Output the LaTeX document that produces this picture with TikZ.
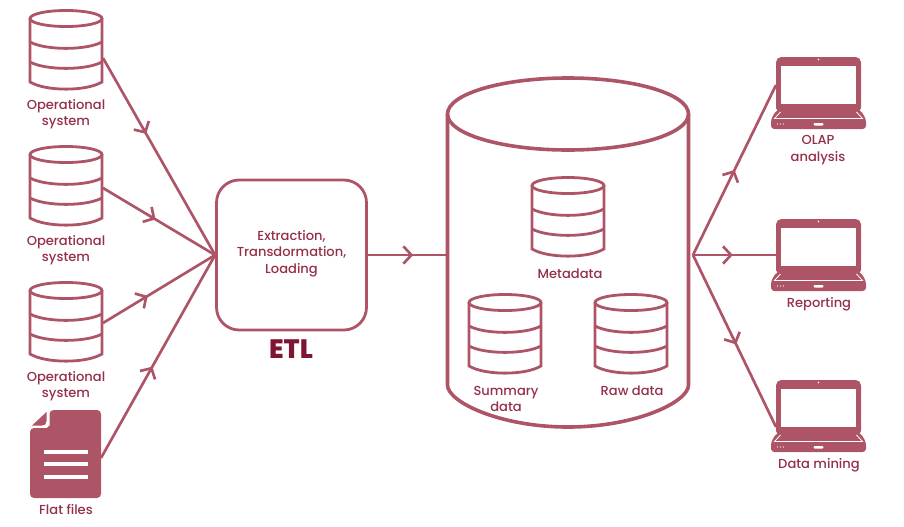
\documentclass[tikz,border=0pt]{standalone}
\usepackage{fontspec}
\setmainfont{Poppins Medium}
\usetikzlibrary{arrows.meta,decorations.markings}
\definecolor{rosedraw}{HTML}{AD5566}
\definecolor{rosetext}{HTML}{94304A}
\definecolor{rosedark}{HTML}{7F1631}
\tikzset{
  flow/.style={rosedraw,line width=2pt,postaction={decorate},decoration={markings,
      mark=at position #1 with {\arrow[rosedraw,line width=2pt]{Straight Barb[length=6pt,width=13pt]}}}},
  caption/.style={text=rosetext,font=\fontsize{9.8}{12.3}\selectfont,align=center},
  dbline/.style={rosedraw,line width=2.1pt},
  hole/.style={draw=none,minimum width=#1,inner sep=0pt},
  dbstack/.pic={
    \draw [dbline] (0,8.5) ellipse [x radius=36,y radius=8];
    \draw [dbline] (-36,8.5) -- (-36,72) .. controls (-20,81.5) and (20,81.5) .. (36,72) -- (36,8.5);
    \foreach \h in {32,52}
      \draw [dbline] (-36,\h) .. controls (-20,\h+8.5) and (20,\h+8.5) .. (36,\h);
  },
  laptop/.pic={
    \fill [rosedraw,rounded corners=4pt] (-42.5,0) rectangle (42.5,56);
    \fill [white] (-37.5,9) rectangle (37.5,47);
    \fill [white] (0,2.5) circle (0.9);
    \fill [rosedraw,rounded corners=2.5pt] (-42,53) -- (42,53) -- (47.5,62) -- (47.5,72) -- (-47.5,72) -- (-47.5,62) -- cycle;
    \draw [white,line width=0.6pt] (-38,55) -- (-44,61.5) -- (44,61.5) -- (38,55);
    \fill [white,rounded corners=0.8pt] (-5,66) rectangle (5,68.5);
    \foreach \d in {-41,-38,-35}
      \fill [white] (\d,67) circle (0.7);
  },
}
\begin{document}
\begin{tikzpicture}[x=0.75pt,y=-0.75pt]
\useasboundingbox (0,0) rectangle (904,526);
% sources
\pic at (66,10) {dbstack};
\pic at (66,146) {dbstack};
\pic at (66,282) {dbstack};
\node [caption] (opa) at (66,114) {Operational\\system};
\node [caption] (opb) at (66,250) {Operational\\system};
\node [caption] (opc) at (66,386) {Operational\\system};
\coordinate (srca) at (103,58);
\coordinate (srcb) at (103,188);
\coordinate (srcc) at (103,323);
\coordinate (srcd) at (101,458);
% flat file
\fill [rosedraw,rounded corners=3pt] (49.5,410) -- (101,410) -- (101,498) -- (30,498) -- (30,428)
  -- (43,428) .. controls (47,428) and (49.5,425) .. (49.5,422) -- cycle;
\fill [rosedraw] (32,425.5) -- (46.5,412) -- (46.5,421) .. controls (46.5,424) and (45,425.5) .. (42,425.5) -- cycle;
\foreach \y in {452,464,477}
  \draw [white,line width=2.6pt] (44,\y) -- (88,\y);
\node [caption] (flat) at (66,510) {Flat files};
% etl
\node [draw=rosedraw,line width=2.1pt,rounded corners=17pt,minimum width=150*0.75pt,minimum height=150*0.75pt,
  caption] (etl) at (291.5,255) {};
\node [caption] (etltext) at (291.5,253.5) {Extraction,\\Transdormation,\\Loading};
\node [text=rosedark,font=\fontsize{20}{22}\selectfont\bfseries] (etlname) at (291,349) {ETL};
% warehouse
\draw [rosedraw,line width=2.7pt] (568,114) ellipse [x radius=120.5,y radius=36];
\draw [rosedraw,line width=2.7pt] (447.5,114) -- (447.5,385) .. controls (447.5,402) and (500,427) .. (568,427)
  .. controls (636,427) and (688.5,402) .. (688.5,385) -- (688.5,114);
\node [hole=242*0.75pt] (dbhub) at (568,255) {};
\coordinate (dbout) at (693,255);
\pic at (568,177) {dbstack};
\pic at (505,294) {dbstack};
\pic at (631,294) {dbstack};
\node [caption] (meta) at (570,274) {Metadata};
\node [caption] (summ) at (506,399) {Summary\\data};
\node [caption] (raw) at (632,391) {Raw data};
% clients
\pic at (818.5,57) {laptop};
\pic at (818.5,219) {laptop};
\pic at (818.5,380) {laptop};
\coordinate (lapa) at (776,85);
\coordinate (lapb) at (776,255);
\coordinate (lapc) at (776,427);
\node [caption] (olap) at (818,150) {OLAP\\analysis};
\node [caption] (rep) at (819,304) {Reporting};
\node [caption] (mine) at (819,465) {Data mining};
% flows
\draw [flow=0.385] (srca) -- (etl.west);
\draw [flow=0.47] (srcb) -- (etl.west);
\draw [flow=0.40] (srcc) -- (etl.west);
\draw [flow=0.45] (srcd) -- (etl.west);
\draw [flow=0.575] (etl.east) -- (dbhub.west);
\draw [flow=0.50] (dbout) -- (lapa);
\draw [flow=0.48] (dbout) -- (lapb);
\draw [flow=0.52] (dbout) -- (lapc);
\end{tikzpicture}
\end{document}
